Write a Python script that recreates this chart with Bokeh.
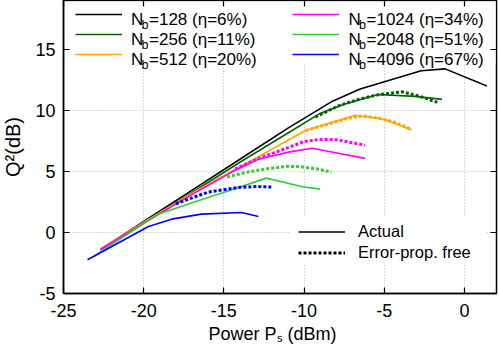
from bokeh.plotting import figure
from bokeh.models import (Legend, LegendItem, Label, LinearAxis, FixedTicker, Range1d,
                          BoxAnnotation)
from bokeh.embed import file_html
from bokeh.resources import INLINE

FONT = "Liberation Sans"
NBSP = "\u00a0"

# ---------------- data ----------------
x_ticks = [-25, -20, -15, -10, -5, 0]
x_tick_labels = ["-25", "-20", "-15", "-10", "-5", "0"]
y_ticks = [-5, 0, 5, 10, 15]
y_tick_labels = ["-5", "0", "5", "10", "15"]

nb_values = ["128", "256", "512", "1024", "2048", "4096"]
eta_values = ["6%", "11%", "20%", "34%", "51%", "67%"]
colors = ["#000000", "#006400", "#ffa500", "#ff00ff", "#33cc33", "#0000ff"]

# Actual (solid)
x_128 = [-22.7, -20.0, -17.0, -14.0, -11.0, -8.3, -6.5, -2.7, -1.2, 1.4]
y_128 = [-1.4, 0.9, 3.45, 6.0, 8.55, 10.7, 11.75, 13.25, 13.4, 12.0]
x_256 = [-22.7, -20.0, -17.0, -14.0, -11.0, -9.0, -7.5, -5.4, -3.1, -1.4]
y_256 = [-1.4, 0.8, 3.25, 5.75, 8.15, 9.75, 10.5, 11.3, 11.15, 10.9]
x_512 = [-22.7, -20.0, -16.6, -13.0, -9.9, -8.3, -6.8, -5.0, -3.3]
y_512 = [-1.35, 0.85, 3.5, 6.1, 8.35, 9.0, 9.6, 9.25, 8.4]
x_1024 = [-22.7, -20.0, -17.0, -14.5, -12.85, -10.9, -9.5, -8.1, -6.2]
y_1024 = [-1.4, 0.75, 3.1, 4.95, 6.0, 6.6, 6.9, 6.55, 6.07]
x_2048 = [-23.1, -19.1, -16.6, -14.5, -12.35, -10.1, -9.0]
y_2048 = [-1.95, 1.5, 2.6, 3.5, 4.45, 3.75, 3.55]
x_4096 = [-23.5, -19.7, -18.26, -16.4, -13.9, -12.85]
y_4096 = [-2.24, 0.49, 1.09, 1.5, 1.63, 1.31]

# Error-propagation free (dotted)
xf_256 = [-9.3, -7.9, -6.6, -5.5, -3.9, -2.9, -1.6]
yf_256 = [9.45, 10.35, 10.9, 11.25, 11.52, 11.2, 10.62]
xf_512 = [-9.9, -8.3, -7.4, -6.4, -5.5, -4.5, -3.4]
yf_512 = [8.35, 8.95, 9.3, 9.55, 9.4, 9.1, 8.5]
xf_1024 = [-14.3, -12.85, -11.0, -10.0, -9.0, -8.0, -7.0, -6.2]
yf_1024 = [5.2, 6.05, 6.95, 7.45, 7.62, 7.6, 7.35, 7.15]
xf_2048 = [-14.8, -13.5, -12.4, -11.0, -10.2, -9.2, -8.3]
yf_2048 = [4.55, 4.95, 5.2, 5.42, 5.38, 5.2, 4.95]
xf_4096 = [-18.0, -16.0, -14.0, -12.9, -12.0]
yf_4096 = [2.35, 3.3, 3.7, 3.76, 3.72]

actual_x = [x_128, x_256, x_512, x_1024, x_2048, x_4096]
actual_y = [y_128, y_256, y_512, y_1024, y_2048, y_4096]
free_x = [None, xf_256, xf_512, xf_1024, xf_2048, xf_4096]
free_y = [None, yf_256, yf_512, yf_1024, yf_2048, yf_4096]

# ---------------- figure ----------------
p = figure(width=499, height=349, output_backend="svg", toolbar_location=None,
           x_range=Range1d(-25, 2), y_range=Range1d(-5, 19),
           min_border_left=64, min_border_right=2, min_border_top=1, min_border_bottom=55)
p.margin = (-1, 0, 0, -1)
p.background_fill_color = "white"
p.border_fill_color = "white"
p.outline_line_color = "black"
p.outline_line_width = 1.5

for ax in (p.xaxis[0], p.yaxis[0]):
    ax.major_tick_in = 6
    ax.major_tick_out = 0
    ax.minor_tick_line_color = None
    ax.major_tick_line_color = "black"
    ax.major_tick_line_width = 1.2
    ax.axis_line_color = "black"
    ax.axis_line_width = 1.5
    ax.major_label_text_font = FONT
    ax.major_label_text_font_size = "18px"
    ax.major_label_text_color = "black"

p.xaxis[0].ticker = FixedTicker(ticks=x_ticks)
p.yaxis[0].ticker = FixedTicker(ticks=y_ticks)
p.xaxis[0].major_label_overrides = {t: s for t, s in zip(x_ticks, x_tick_labels)}
p.yaxis[0].major_label_overrides = {t: s for t, s in zip(y_ticks, y_tick_labels)}
p.xaxis[0].major_label_standoff = 10
p.yaxis[0].major_label_standoff = 8

p.xaxis[0].axis_label = "Power Pₛ (dBm)" + NBSP * 3
p.xaxis[0].axis_label_text_font = FONT
p.xaxis[0].axis_label_text_font_size = "18px"
p.xaxis[0].axis_label_text_font_style = "normal"
p.xaxis[0].axis_label_text_color = "black"
p.xaxis[0].axis_label_standoff = 4

p.yaxis[0].axis_label = "Q²(dB)"
p.yaxis[0].axis_label_text_font = FONT
p.yaxis[0].axis_label_text_font_size = "20px"
p.yaxis[0].axis_label_text_font_style = "normal"
p.yaxis[0].axis_label_text_color = "black"
p.yaxis[0].axis_label_standoff = 8

top_ax = LinearAxis(ticker=FixedTicker(ticks=x_ticks), major_tick_in=6, major_tick_out=0,
                    minor_tick_line_color=None, major_label_text_font_size="0px",
                    major_label_overrides={t: "" for t in x_ticks},
                    major_label_standoff=0, axis_line_color=None, major_tick_line_width=1.2)
right_ax = LinearAxis(ticker=FixedTicker(ticks=y_ticks), major_tick_in=6, major_tick_out=0,
                      minor_tick_line_color=None, major_label_text_font_size="0px",
                      major_label_overrides={t: "" for t in y_ticks},
                      major_label_standoff=0, axis_line_color=None, major_tick_line_width=1.2)
p.add_layout(top_ax, "above")
p.add_layout(right_ax, "right")

for g in (p.xgrid[0], p.ygrid[0]):
    g.grid_line_color = "#b4b4b4"
    g.grid_line_dash = "1 2"
    g.grid_line_width = 1
p.xgrid[0].ticker = FixedTicker(ticks=x_ticks)
p.ygrid[0].ticker = FixedTicker(ticks=y_ticks)

# opaque key backgrounds (hide grid lines behind the keys)
p.add_layout(BoxAnnotation(left=2, right=432, top=292, bottom=230,
                           left_units="screen", right_units="screen",
                           top_units="screen", bottom_units="screen",
                           fill_color="white", fill_alpha=1.0, line_color=None,
                           level="underlay"))
p.add_layout(BoxAnnotation(left=227, right=423, top=76, bottom=30,
                           left_units="screen", right_units="screen",
                           top_units="screen", bottom_units="screen",
                           fill_color="white", fill_alpha=1.0, line_color=None,
                           level="underlay"))

solid_renderers = []
for i in range(6):
    r = p.line(actual_x[i], actual_y[i], line_color=colors[i], line_width=1.6)
    solid_renderers.append(r)
    if free_x[i] is not None:
        p.line(free_x[i], free_y[i], line_color=colors[i], line_width=3, line_dash="3 2")

# placeholder renderers (no visible points) for the style key
nan = float("nan")
r_act = p.line([nan], [nan], line_color="black", line_width=1.6)
r_free = p.line([nan], [nan], line_color="black", line_width=3, line_dash="3 2")

def make_top_legend(renderers, loc, lw):
    return Legend(items=[LegendItem(label=" ", renderers=[r]) for r in renderers],
                  location=loc, orientation="vertical",
                  glyph_width=47, glyph_height=20, label_height=20, label_width=lw,
                  label_standoff=11, spacing=0, padding=3, margin=0,
                  border_line_color=None, background_fill_alpha=0.0,
                  label_text_font_size="1px")

leg1 = make_top_legend(solid_renderers[0:3], (12, 229), 125)
leg2 = make_top_legend(solid_renderers[3:6], (228.7, 229), 145)
p.add_layout(leg1)
p.add_layout(leg2)

leg3 = Legend(items=[LegendItem(label="Actual", renderers=[r_act]),
                     LegendItem(label="Error-prop. free", renderers=[r_free])],
              location=(235, 29.8), orientation="vertical",
              glyph_width=47, glyph_height=21, label_height=21,
              label_standoff=13, spacing=0, padding=3, margin=0,
              border_line_color=None, background_fill_alpha=0.0,
              label_text_font=FONT, label_text_font_size="16.5px",
              label_text_color="black")
p.add_layout(leg3)

# key texts with subscripts
col_x = [67.5, 285.0]
row_base = [274.0, 254.0, 234.0]
for i in range(6):
    cx = col_x[i // 3]
    by = row_base[i % 3]
    p.add_layout(Label(x=cx, y=by, x_units="screen", y_units="screen", text="N",
                       text_font=FONT, text_font_size="17px", text_color="black",
                       text_baseline="alphabetic", text_align="left", level="overlay"))
    p.add_layout(Label(x=cx + 10.6, y=by - 5, x_units="screen", y_units="screen", text="b",
                       text_font=FONT, text_font_size="12.5px", text_color="black",
                       text_baseline="alphabetic", text_align="left", level="overlay"))
    p.add_layout(Label(x=cx + 18.0, y=by, x_units="screen", y_units="screen",
                       text="=" + nb_values[i] + " (η=" + eta_values[i] + ")",
                       text_font=FONT, text_font_size="17px", text_color="black",
                       text_baseline="alphabetic", text_align="left", level="overlay"))

open("out.html", "w").write(file_html(p, INLINE))
